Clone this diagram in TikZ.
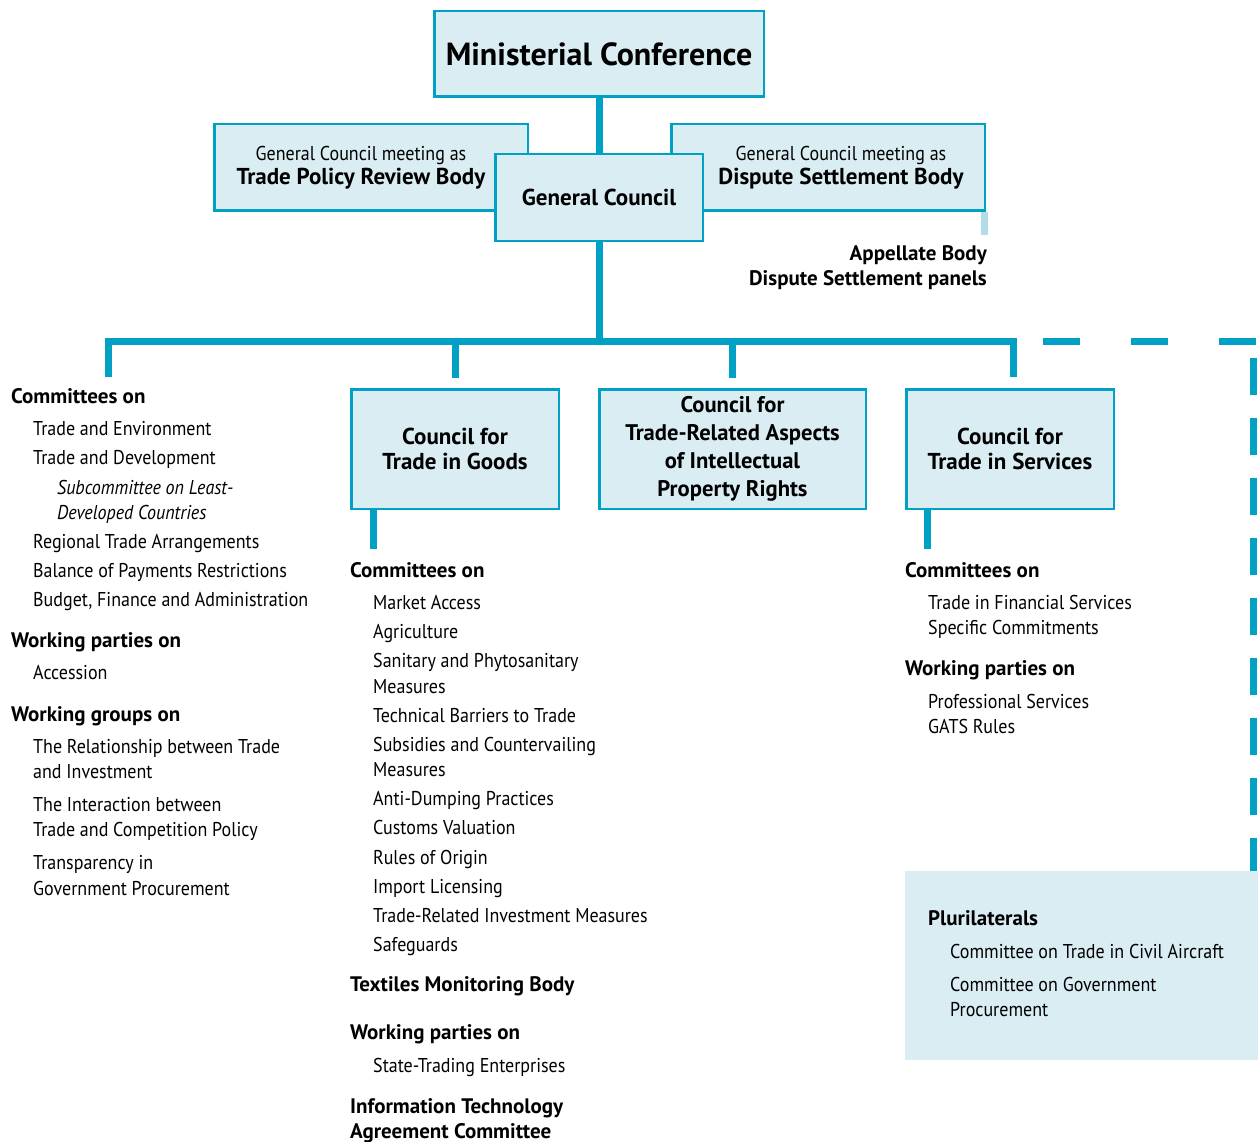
\documentclass[tikz,border=0pt]{standalone}
\usepackage{fontspec}
\setmainfont{PT Sans}
\newfontfamily\lightfont{PT Sans}[FakeStretch=0.9]
\usepackage{tikz}
\usetikzlibrary{calc}
\definecolor{wtoblue}{RGB}{0,161,196}
\definecolor{wtofill}{RGB}{217,237,243}
\definecolor{wtopale}{RGB}{178,221,232}
\tikzset{
  orgbox/.style={
    draw=wtoblue,
    line width=2.5pt,
    fill=wtofill,
    inner sep=0pt,
    align=center},
  bar/.style={draw=wtoblue, line width=7pt},
  dashbar/.style={bar, dash pattern=on 37pt off 51pt},
  vdashbar/.style={bar, dash pattern=on 37pt off 23pt},
  palebar/.style={draw=wtopale, line width=7pt},
  txt/.style={
    anchor=west,
    inner sep=0pt,
    text height=14pt,
    text depth=0pt,
    font=\lightfont\fontsize{20}{24}\selectfont},
  head/.style={txt, font=\fontsize{21}{24}\selectfont\bfseries},
  sub/.style={txt, font=\lightfont\fontsize{20}{24}\selectfont\itshape}
  }

\begin{document}
\begin{tikzpicture}[x=1pt, y=-1pt]
		\useasboundingbox (0,0) rectangle (1258,1142);
		% top of the chart
		\node [orgbox, minimum width=329.5, minimum height=85.5,
		  font=\fontsize{32}{36}\selectfont\bfseries] (mc) at (599,54) {Ministerial Conference};
		\node [orgbox, minimum width=313.5, minimum height=86.5] (tprb) at (371,167.5) {};
		\node [orgbox, minimum width=313.5, minimum height=86.5] (dsb) at (828,167.5) {};
		\node [txt, anchor=center, align=center] (tprbtext) at (361,178)
		  {General Council meeting as\\{\normalfont\fontsize{23}{24}\selectfont\bfseries Trade Policy Review Body}};
		\node [txt, anchor=center, align=center] (dsbtext) at (841,178)
		  {General Council meeting as\\{\normalfont\fontsize{23}{24}\selectfont\bfseries Dispute Settlement Body}};
		\node [orgbox, minimum width=207.5, minimum height=86.5,
		  font=\fontsize{23}{28}\selectfont\bfseries] (gc) at (599,197.5) {General Council};
		\draw [bar] (mc.south) to (gc.north);
		% appellate body and panels
		\coordinate (appstub) at (984.5,235);
		\draw [palebar] (appstub |- dsb.south) to (appstub);
		\node [head, anchor=east] (appellate) at (987,253) {Appellate Body};
		\node [head, anchor=east] (panels) at (987,278) {Dispute Settlement panels};
		% councils
		\node [orgbox, minimum width=207.5, minimum height=119.5,
		  font=\fontsize{23}{25}\selectfont\bfseries] (goods) at (455,449) {Council for\\Trade in Goods};
		\node [orgbox, minimum width=266.5, minimum height=119.5,
		  font=\fontsize{22.6}{28}\selectfont\bfseries] (trips) at (732.5,449)
		  {Council for\\Trade-Related Aspects\\of Intellectual\\Property Rights};
		\node [orgbox, minimum width=207.5, minimum height=119.5,
		  font=\fontsize{23}{25}\selectfont\bfseries] (services) at (1010,449) {Council for\\Trade in Services};
		% the bus
		\coordinate (bus) at (599,341);
		\coordinate (lefttop) at (108,377);
		\coordinate (righttop) at (1013,377);
		\draw [bar] (gc.south) to (bus);
		\draw [bar] (lefttop) |- (bus) -| (righttop);
		\draw [bar] ([yshift=10pt]goods.north) to (goods.north |- bus);
		\draw [bar] ([yshift=10pt]trips.north) to (trips.north |- bus);
		\coordinate (dashstart) at (1043,341);
		\coordinate (dashcorner) at (1257,341);
		\coordinate (vdashstart) at (1253,358);
		\coordinate (vdashend) at (1253,871);
		\draw [dashbar] (dashstart) to (dashcorner);
		\draw [vdashbar] (vdashstart) to (vdashend);
		\coordinate (goodsstub) at (373,549);
		\coordinate (servicesstub) at (927,549);
		\draw [bar] (goodsstub |- goods.south) to (goodsstub);
		\draw [bar] (servicesstub |- services.south) to (servicesstub);
		% left column
		\node [head] (gcom) at (11,396) {Committees on};
		\node [txt] (gcom1) at (33,428) {Trade and Environment};
		\node [txt] (gcom2) at (33,457) {Trade and Development};
		\node [sub] (gcom3) at (57,487) {Subcommittee on Least-};
		\node [sub] (gcom3b) at (57,512) {Developed Countries};
		\node [txt] (gcom4) at (33,541) {Regional Trade Arrangements};
		\node [txt] (gcom5) at (33,570) {Balance of Payments Restrictions};
		\node [txt] (gcom6) at (33,599) {Budget, Finance and Administration};
		\node [head] (gwp) at (11,640) {Working parties on};
		\node [txt] (gwp1) at (33,672) {Accession};
		\node [head] (gwg) at (11,714) {Working groups on};
		\node [txt] (gwg1) at (33,746) {The Relationship between Trade};
		\node [txt] (gwg1b) at (33,771) {and Investment};
		\node [txt] (gwg2) at (33,804) {The Interaction between};
		\node [txt] (gwg2b) at (33,829) {Trade and Competition Policy};
		\node [txt] (gwg3) at (33,862) {Transparency in};
		\node [txt] (gwg3b) at (33,888) {Government Procurement};
		% goods column
		\node [head] (tgcom) at (350,570) {Committees on};
		\node [txt] (tg1) at (373,602) {Market Access};
		\node [txt] (tg2) at (373,631) {Agriculture};
		\node [txt] (tg3) at (373,660) {Sanitary and Phytosanitary};
		\node [txt] (tg3b) at (373,686) {Measures};
		\node [txt] (tg4) at (373,715) {Technical Barriers to Trade};
		\node [txt] (tg5) at (373,744) {Subsidies and Countervailing};
		\node [txt] (tg5b) at (373,769) {Measures};
		\node [txt] (tg6) at (373,798) {Anti-Dumping Practices};
		\node [txt] (tg7) at (373,827) {Customs Valuation};
		\node [txt] (tg8) at (373,857) {Rules of Origin};
		\node [txt] (tg9) at (373,886) {Import Licensing};
		\node [txt] (tg10) at (373,915) {Trade-Related Investment Measures};
		\node [txt] (tg11) at (373,944) {Safeguards};
		\node [head] (tmb) at (350,984) {Textiles Monitoring Body};
		\node [head] (tgwp) at (350,1032) {Working parties on};
		\node [txt] (tgwp1) at (373,1065) {State-Trading Enterprises};
		\node [head] (ita) at (350,1106) {Information Technology};
		\node [head] (itab) at (350,1131) {Agreement Committee};
		% services column
		\node [head] (tscom) at (905,570) {Committees on};
		\node [txt] (ts1) at (928,602) {Trade in Financial Services};
		\node [txt] (ts2) at (928,627) {Specific Commitments};
		\node [head] (tswp) at (905,668) {Working parties on};
		\node [txt] (tswp1) at (928,701) {Professional Services};
		\node [txt] (tswp2) at (928,726) {GATS Rules};
		% plurilaterals
		\node [fill=wtofill, inner sep=0pt, minimum width=353, minimum height=189] (plur) at (1081.5,965.5) {};
		\node [head] (plurhead) at (928,918) {Plurilaterals};
		\node [txt] (plur1) at (950,951) {Committee on Trade in Civil Aircraft};
		\node [txt] (plur2) at (950,984) {Committee on Government};
		\node [txt] (plur2b) at (950,1009) {Procurement};
	\end{tikzpicture}
\end{document}
